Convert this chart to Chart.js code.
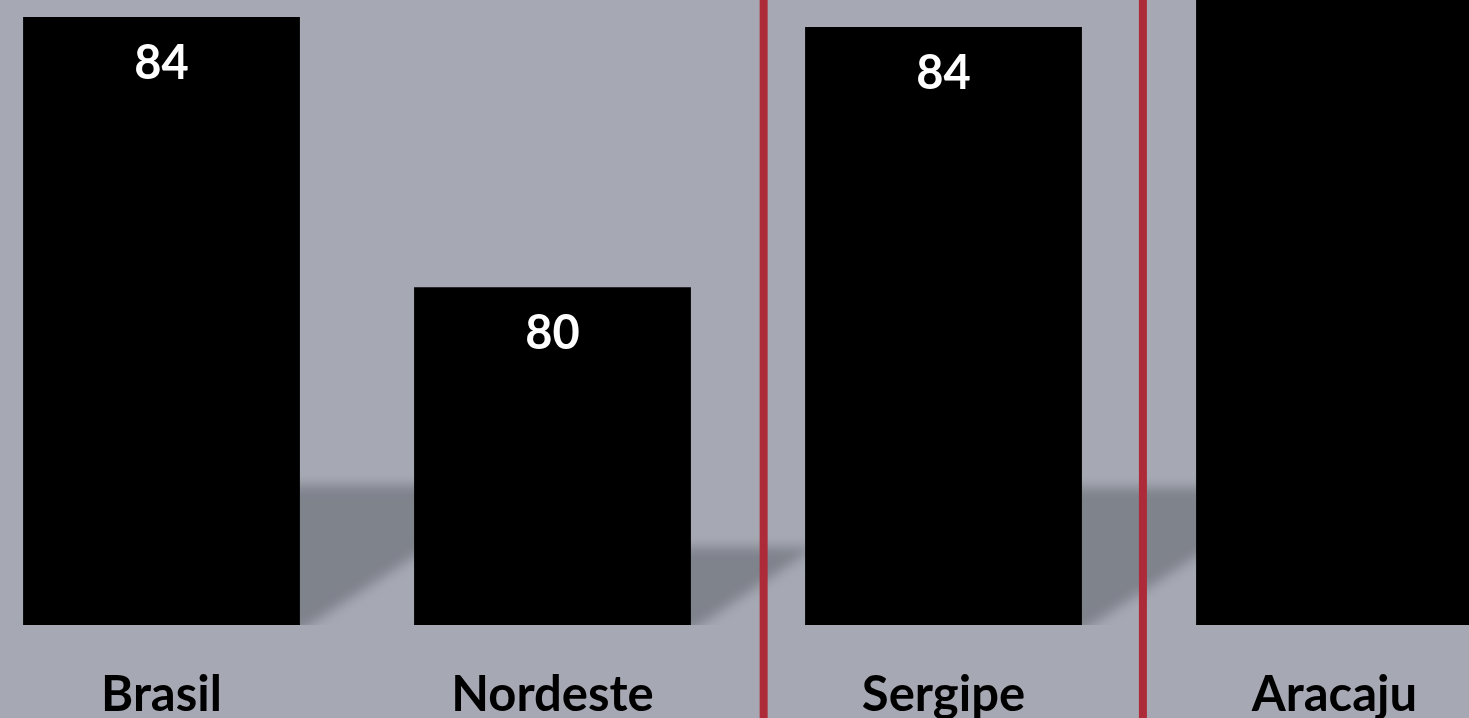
<!DOCTYPE html>
<html>
<head>
<meta charset="utf-8">
<script src="https://cdn.jsdelivr.net/npm/chart.js@4"></script>
<style>
html, body { margin: 0; padding: 0; background: #a6a9b3; overflow: hidden; width: 1469px; height: 718px; }
#wrap { position: absolute; left: -34px; top: 0; width: 1564px; height: 718px; }
</style>
</head>
<body>
<div id="wrap"><canvas id="myChart"></canvas></div>
<script>
var categorias = ["Brasil", "Nordeste", "Sergipe", "Aracaju"];
var valores = [84.0, 80.0, 83.85, 86.0];
// red separators, placed in category units on the x scale
var divisorias = [1.54, 2.51];
var yMin = 75;
var yMax = 84.25;

// soft floor shadow cast by each bar, drawn behind the bars
var sombras = {
    id: "sombras",
    beforeDatasetsDraw: function (chart) {
        var ctx = chart.ctx, area = chart.chartArea;
        var xs = chart.scales.x, ys = chart.scales.y;
        var half = (xs.getPixelForValue(1) - xs.getPixelForValue(0)) * 0.708 / 2;
        var base = ys.getPixelForValue(yMin);
        var off = 5000;
        ctx.save();
        ctx.beginPath();
        ctx.rect(area.left, 0, area.right - area.left, area.bottom);
        ctx.clip();
        ctx.shadowColor = "#7f838c";
        ctx.shadowBlur = 12;
        ctx.shadowOffsetX = off;
        ctx.fillStyle = "#7f838c";
        valores.forEach(function (v, i) {
            var cx = xs.getPixelForValue(i);
            var top = ys.getPixelForValue(v);
            var l = cx - half - off, r = cx + half - off;
            var h = (base - top) * 0.23;
            var dx = h * 1.6;
            ctx.beginPath();
            ctx.moveTo(l, base + 6);
            ctx.lineTo(r, base + 6);
            ctx.lineTo(r + dx, base - h);
            ctx.lineTo(l + dx, base - h);
            ctx.closePath();
            ctx.fill();
        });
        ctx.restore();
    },
    afterDatasetsDraw: function (chart) {
        var ctx = chart.ctx;
        var bars = chart.getDatasetMeta(0).data;
        ctx.save();
        ctx.font = "bold 47px Lato";
        ctx.fillStyle = "#ffffff";
        ctx.textAlign = "center";
        ctx.textBaseline = "middle";
        bars.forEach(function (b, i) {
            ctx.fillText(Math.round(valores[i]), b.x, b.y + 47);
        });
        ctx.restore();
    },
    afterDraw: function (chart) {
        var ctx = chart.ctx;
        ctx.save();
        ctx.fillStyle = "#ad2b38";
        divisorias.forEach(function (d) {
            var x = chart.scales.x.getPixelForValue(d);
            ctx.fillRect(x - 4, 0, 8, chart.height);
        });
        ctx.restore();
    }
};

new Chart("myChart", {
    type: "bar",
    data: {
        labels: categorias,
        datasets: [{
            data: valores,
            backgroundColor: "#000000",
            barPercentage: 0.708,
            categoryPercentage: 1
        }]
    },
    options: {
        responsive: true,
        maintainAspectRatio: false,
        animation: false,
        layout: { padding: 0 },
        plugins: {
            legend: { display: false },
            tooltip: { enabled: false }
        },
        scales: {
            x: {
                grid: { display: false, drawTicks: false },
                border: { display: false },
                ticks: {
                    color: "#000000",
                    padding: 41,
                    font: { family: "Lato", size: 49, weight: "bold" }
                },
                afterFit: function (s) { s.height = 93; }
            },
            y: {
                display: false,
                min: yMin,
                max: yMax
            }
        }
    },
    plugins: [sombras]
});
</script>
</body>
</html>
